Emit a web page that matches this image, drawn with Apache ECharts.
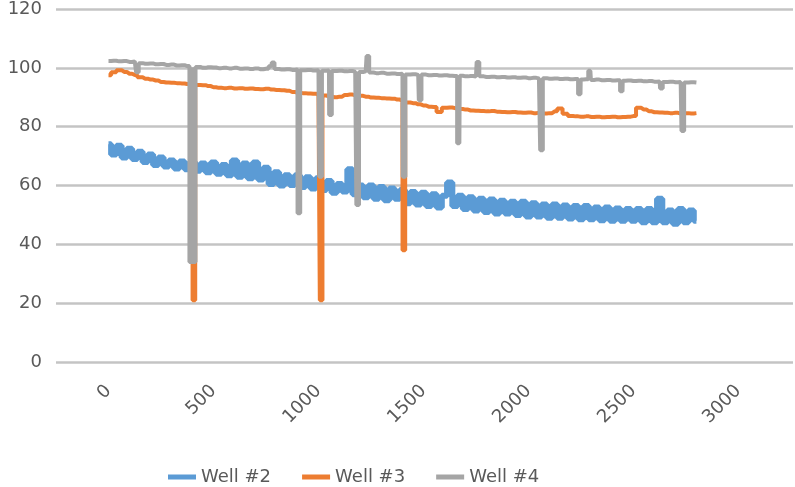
<!DOCTYPE html>
<html>
<head>
<meta charset="utf-8">
<script src="https://cdn.jsdelivr.net/npm/echarts@6/dist/echarts.min.js"></script>
<style>
html,body{margin:0;padding:0;background:#fff;}
#chart{width:795px;height:487px;}
</style>
</head>
<body>
<div id="chart"></div>
<script>
const seriesNames = ['Well #2', 'Well #3', 'Well #4'];
const xTickLabels = [0, 500, 1000, 1500, 2000, 2500, 3000];
const yTickLabels = [0, 20, 40, 60, 80, 100, 120];

const days = [0,25,50,75,100,125,150,175,200,225,250,275,300,325,350,375,400,425,450,475,
500,525,550,575,600,625,650,675,700,725,750,775,800,825,850,875,900,925,950,975,
1000,1025,1050,1075,1100,1125,1150,1175,1200,1225,1250,1275,1300,1325,1350,1375,1400,1425,1450,1475,
1500,1525,1550,1575,1600,1625,1650,1675,1700,1725,1750,1775,1800,1825,1850,1875,1900,1925,1950,1975,
2000,2025,2050,2075,2100,2125,2150,2175,2200,2225,2250,2275,2300,2325,2350,2375,2400,2425,2450,2475,
2500,2525,2550,2575,2600,2625,2650,2675,2700,2725,2750,2775,2800];

const well2 = [74,70.5,73.5,69.5,72.5,69,71.5,68,70.5,67,69.5,66.5,68.5,65.8,68.2,65.5,68,65,67.5,64.5,
67.8,64,67,63.5,68.5,63,67.5,62.5,67.8,62,66,60.5,64.5,60,63.5,60.2,63.5,59.5,62.8,59,
62.5,58.5,61.5,57.5,60.5,58,65.5,57,60,56,60,55.5,59.5,55,59,55.5,58.5,54,57.8,53.5,
57.5,53,57,52.5,56.5,61,53,56.5,52,56,51.5,55.5,51,55.2,50.5,54.8,50.5,54.5,50,54.5,
49.5,54,49.5,53.5,49,53.5,49,53.2,48.8,53,48.5,53,48.5,52.5,48.2,52.5,48,52.2,48,52,
48,52,47.5,52,47.5,55.5,47.5,51.5,47,52,47.5,51.5,48];

const well3 = [97.5,98.5,99.2,98.6,98,97.6,96.8,96.3,96,95.7,95.2,95,94.9,94.8,94.7,94.5,94.4,94.2,94.1,93.8,
93.4,93.2,93.1,93.2,93,93.1,92.9,93,92.8,92.7,92.9,92.6,92.5,92.4,92.2,91.8,91.5,91.4,91.3,91.2,
91,90.6,90.3,90,90.2,90.8,90.9,90.7,90.5,90.2,89.9,89.8,89.7,89.6,89.5,89.2,88.8,88.2,88,87.6,
87.2,86.8,86.7,85,86.4,86.5,86.3,86,85.8,85.5,85.4,85.3,85.2,85.3,85.1,85,84.9,85,84.8,84.7,
84.8,84.6,84.7,84.5,84.6,85.2,86.2,84.4,83.6,83.5,83.4,83.5,83.3,83.4,83.2,83.3,83.4,83.2,83.3,83.4,
83.6,86.4,85.8,85.2,84.9,84.8,84.7,84.6,84.7,84.5,84.6,84.5,84.6];

const well4 = [102.3,102.4,102.2,102.3,102,102.2,101.6,101.4,101.5,101.2,101.3,101,101.1,100.8,100.9,100.6,100.2,100.3,100,100.2,
100.1,99.9,100,99.8,100,99.7,99.8,99.6,99.8,99.5,99.7,100.5,99.6,99.4,99.5,99.3,99.4,99.2,99.3,99.1,
99.2,99,99.1,98.9,99,98.8,98.9,98.7,98.6,98.8,98.4,98.2,98.3,98,98.1,97.9,98,97.7,97.8,97.6,
97.7,97.5,97.6,97.4,97.5,97.3,97.2,97.3,97.1,97.2,97,97.1,96.9,97,96.8,96.9,96.7,96.8,96.6,96.7,
96.5,96.6,96.4,96.5,96.3,96.4,96.2,96.3,96.1,96.2,96,96.1,95.9,96,95.8,95.9,95.7,95.8,95.6,95.7,
95.5,95.6,95.4,95.5,95.3,95.4,95.2,95.3,95.1,95.2,95,95.1,95];

// isolated readings (drops / jumps): [day, value]
const well3Spikes = [[401,21],[1013,21],[1401,38]];
const well4Spikes = [[138,98.5],[396,34],[404,34],[781,101.8],[901,50.6],[1008,63],[1052,84],[1186,53.4],[1233,104],
[1403,63],[1481,89],[1671,74.4],[1757,102],[2062,72],[2248,91],[2295,99],[2448,92],[2629,93],[2733,78.5]];

function merge(vals, spikes) {
  const pts = days.map((d, i) => [d, vals[i]]);
  (spikes || []).forEach(s => pts.push([s[0], s[1]]));
  pts.sort((a, b) => a[0] - b[0]);
  return pts;
}

const colors = ['#5B9BD5', '#ED7D31', '#A5A5A5'];
const font = '"DejaVu Sans", sans-serif';

const chart = echarts.init(document.getElementById('chart'), null, {renderer: 'canvas'});
chart.setOption({
  animation: false,
  color: colors,
  grid: {left: 56, right: 2, top: 9, bottom: 125, containLabel: false},
  legend: {
    data: seriesNames,
    left: 163, top: 463,
    icon: 'rect', itemWidth: 28, itemHeight: 5, itemGap: 31, itemStyle: {borderWidth: 0},
    textStyle: {fontFamily: font, fontSize: 18, color: '#595959'}
  },
  xAxis: {
    type: 'value', min: -250, max: 3260,
    axisLine: {show: false}, axisTick: {show: false}, splitLine: {show: false},
    axisLabel: {customValues: xTickLabels, rotate: 45, margin: 26, fontFamily: font, fontSize: 18, color: '#595959',
      formatter: v => String(v)}
  },
  yAxis: {
    type: 'value', min: 0, max: 120, interval: 20,
    axisLine: {show: false}, axisTick: {show: false},
    splitLine: {lineStyle: {color: '#C4C4C4', width: 2.5}},
    axisLabel: {margin: 14, fontFamily: font, fontSize: 18, color: '#595959', formatter: v => String(v)}
  },
  series: [
    {name: seriesNames[0], type: 'line', step: 'middle', data: merge(well2, []), showSymbol: false, lineStyle: {width: 6}},
    {name: seriesNames[1], type: 'line', step: 'middle', data: merge(well3, well3Spikes), showSymbol: false, lineStyle: {width: 4}},
    {name: seriesNames[2], type: 'line', step: 'middle', data: merge(well4, well4Spikes), showSymbol: false, lineStyle: {width: 4}}
  ]
});
</script>
</body>
</html>
